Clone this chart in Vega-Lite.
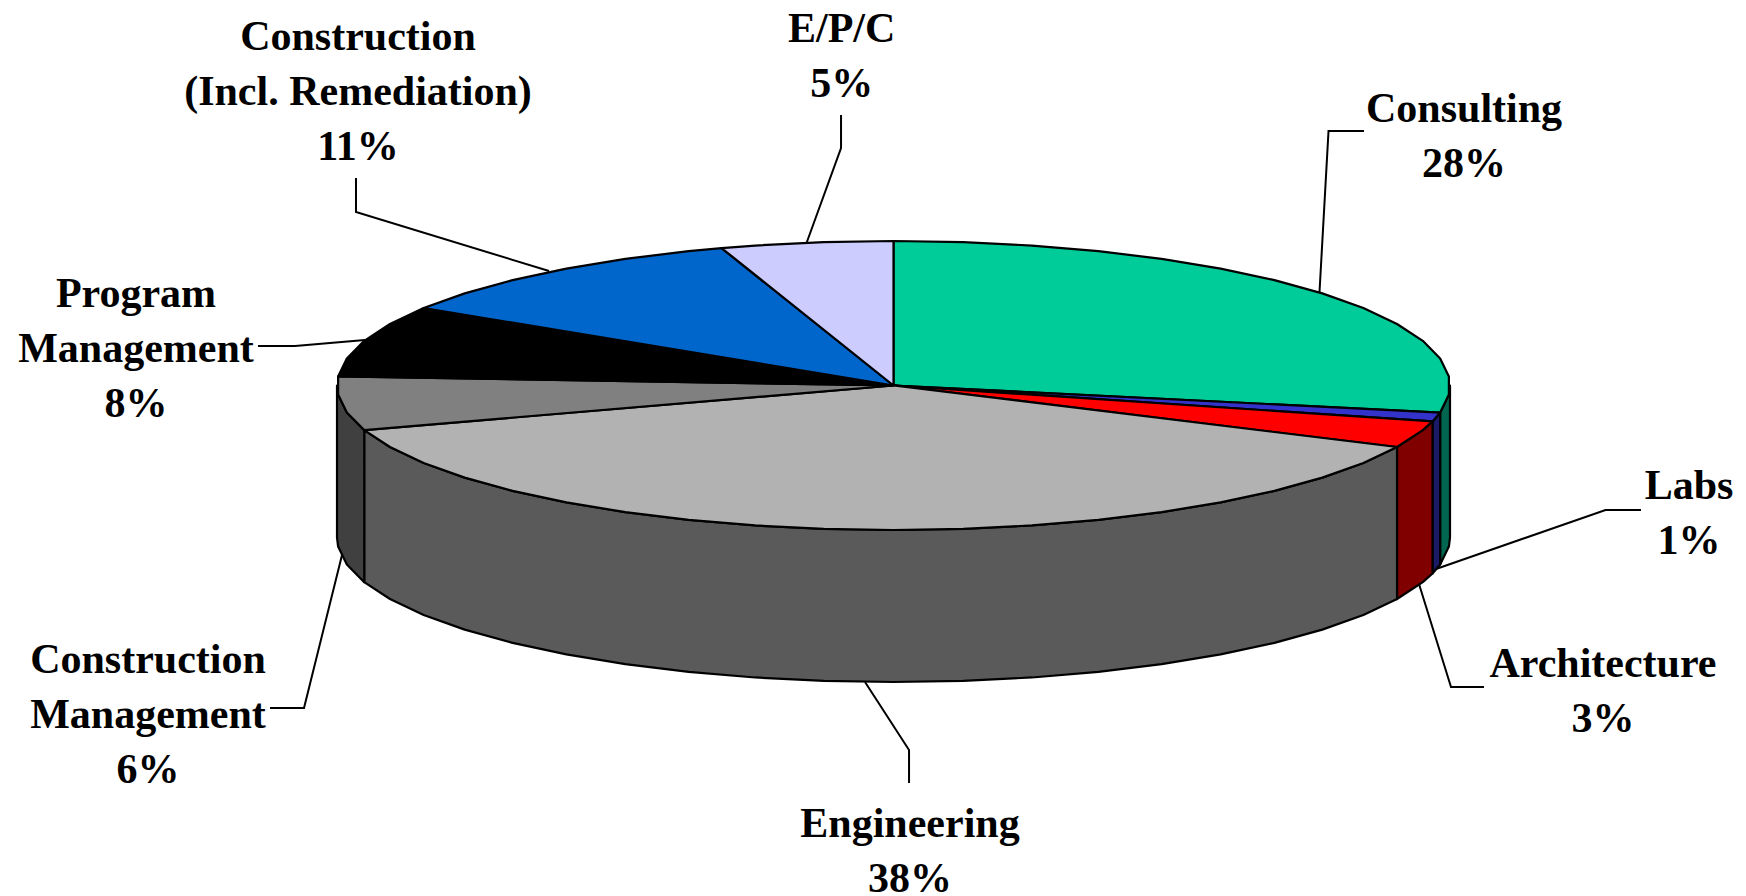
{
"$schema":"https://vega.github.io/schema/vega-lite/v6.json",
"width":1746,"height":896,
"autosize":{"type":"none"},
"padding":0,
"background":"white",
"config":{"view":{"stroke":null}},
"datasets":{
"shares":[
{"name":"Consulting","share":28,"lx":1.0252,"ly":1.8235},
{"name":"Labs","share":1,"lx":1.4295,"ly":-0.7855},
{"name":"Architecture","share":3,"lx":1.2749,"ly":-2.0173},
{"name":"Engineering","share":38,"lx":0.0296,"ly":-3.1225},
{"name":"Construction\nManagement","share":6,"lx":-1.3396,"ly":-1.9862},
{"name":"Program\nManagement","share":8,"lx":-1.3612,"ly":0.5398},
{"name":"Construction\n(Incl. Remediation)","share":11,"lx":-0.9623,"ly":2.3218},
{"name":"E/P/C","share":5,"lx":-0.0931,"ly":2.3806}
],
"wall":[
{"slice":"Consulting","x":1,"y":0,"base":-1.052},
{"slice":"Consulting","x":0.998,"y":-0.0628,"base":-1.1148},
{"slice":"Consulting","x":0.9823,"y":-0.1874,"base":-1.2394},
{"slice":"Labs","x":0.9823,"y":-0.1874,"base":-1.2394},
{"slice":"Labs","x":0.9686,"y":-0.2487,"base":-1.3007},
{"slice":"Architecture","x":0.9686,"y":-0.2487,"base":-1.3007},
{"slice":"Architecture","x":0.9511,"y":-0.309,"base":-1.361},
{"slice":"Architecture","x":0.9048,"y":-0.4258,"base":-1.4778},
{"slice":"Engineering","x":0.9048,"y":-0.4258,"base":-1.4778},
{"slice":"Engineering","x":0.8443,"y":-0.5358,"base":-1.5878},
{"slice":"Engineering","x":0.7705,"y":-0.6374,"base":-1.6894},
{"slice":"Engineering","x":0.6845,"y":-0.729,"base":-1.781},
{"slice":"Engineering","x":0.5878,"y":-0.809,"base":-1.861},
{"slice":"Engineering","x":0.4818,"y":-0.8763,"base":-1.9283},
{"slice":"Engineering","x":0.3681,"y":-0.9298,"base":-1.9818},
{"slice":"Engineering","x":0.2487,"y":-0.9686,"base":-2.0206},
{"slice":"Engineering","x":0.1253,"y":-0.9921,"base":-2.0441},
{"slice":"Engineering","x":0,"y":-1,"base":-2.052},
{"slice":"Engineering","x":-0.1253,"y":-0.9921,"base":-2.0441},
{"slice":"Engineering","x":-0.2487,"y":-0.9686,"base":-2.0206},
{"slice":"Engineering","x":-0.3681,"y":-0.9298,"base":-1.9818},
{"slice":"Engineering","x":-0.4818,"y":-0.8763,"base":-1.9283},
{"slice":"Engineering","x":-0.5878,"y":-0.809,"base":-1.861},
{"slice":"Engineering","x":-0.6845,"y":-0.729,"base":-1.781},
{"slice":"Engineering","x":-0.7705,"y":-0.6374,"base":-1.6894},
{"slice":"Engineering","x":-0.8443,"y":-0.5358,"base":-1.5878},
{"slice":"Engineering","x":-0.9048,"y":-0.4258,"base":-1.4778},
{"slice":"Engineering","x":-0.9511,"y":-0.309,"base":-1.361},
{"slice":"Construction Management","x":-0.9511,"y":-0.309,"base":-1.361},
{"slice":"Construction Management","x":-0.9823,"y":-0.1874,"base":-1.2394},
{"slice":"Construction Management","x":-0.998,"y":-0.0628,"base":-1.1148},
{"slice":"Construction Management","x":-1,"y":0,"base":-1.052}
],
"top":[
{"slice":"Consulting","i":0,"x":0,"y":0},
{"slice":"Consulting","i":1,"x":0,"y":1},
{"slice":"Consulting","i":2,"x":0.1253,"y":0.9921},
{"slice":"Consulting","i":3,"x":0.2487,"y":0.9686},
{"slice":"Consulting","i":4,"x":0.3681,"y":0.9298},
{"slice":"Consulting","i":5,"x":0.4818,"y":0.8763},
{"slice":"Consulting","i":6,"x":0.5878,"y":0.809},
{"slice":"Consulting","i":7,"x":0.6845,"y":0.729},
{"slice":"Consulting","i":8,"x":0.7705,"y":0.6374},
{"slice":"Consulting","i":9,"x":0.8443,"y":0.5358},
{"slice":"Consulting","i":10,"x":0.9048,"y":0.4258},
{"slice":"Consulting","i":11,"x":0.9511,"y":0.309},
{"slice":"Consulting","i":12,"x":0.9823,"y":0.1874},
{"slice":"Consulting","i":13,"x":0.998,"y":0.0628},
{"slice":"Consulting","i":14,"x":0.998,"y":-0.0628},
{"slice":"Consulting","i":15,"x":0.9823,"y":-0.1874},
{"slice":"Consulting","i":16,"x":0,"y":0},
{"slice":"Labs","i":0,"x":0,"y":0},
{"slice":"Labs","i":1,"x":0.9823,"y":-0.1874},
{"slice":"Labs","i":2,"x":0.9686,"y":-0.2487},
{"slice":"Labs","i":3,"x":0,"y":0},
{"slice":"Architecture","i":0,"x":0,"y":0},
{"slice":"Architecture","i":1,"x":0.9686,"y":-0.2487},
{"slice":"Architecture","i":2,"x":0.9511,"y":-0.309},
{"slice":"Architecture","i":3,"x":0.9048,"y":-0.4258},
{"slice":"Architecture","i":4,"x":0,"y":0},
{"slice":"Engineering","i":0,"x":0,"y":0},
{"slice":"Engineering","i":1,"x":0.9048,"y":-0.4258},
{"slice":"Engineering","i":2,"x":0.8443,"y":-0.5358},
{"slice":"Engineering","i":3,"x":0.7705,"y":-0.6374},
{"slice":"Engineering","i":4,"x":0.6845,"y":-0.729},
{"slice":"Engineering","i":5,"x":0.5878,"y":-0.809},
{"slice":"Engineering","i":6,"x":0.4818,"y":-0.8763},
{"slice":"Engineering","i":7,"x":0.3681,"y":-0.9298},
{"slice":"Engineering","i":8,"x":0.2487,"y":-0.9686},
{"slice":"Engineering","i":9,"x":0.1253,"y":-0.9921},
{"slice":"Engineering","i":10,"x":0,"y":-1},
{"slice":"Engineering","i":11,"x":-0.1253,"y":-0.9921},
{"slice":"Engineering","i":12,"x":-0.2487,"y":-0.9686},
{"slice":"Engineering","i":13,"x":-0.3681,"y":-0.9298},
{"slice":"Engineering","i":14,"x":-0.4818,"y":-0.8763},
{"slice":"Engineering","i":15,"x":-0.5878,"y":-0.809},
{"slice":"Engineering","i":16,"x":-0.6845,"y":-0.729},
{"slice":"Engineering","i":17,"x":-0.7705,"y":-0.6374},
{"slice":"Engineering","i":18,"x":-0.8443,"y":-0.5358},
{"slice":"Engineering","i":19,"x":-0.9048,"y":-0.4258},
{"slice":"Engineering","i":20,"x":-0.9511,"y":-0.309},
{"slice":"Engineering","i":21,"x":0,"y":0},
{"slice":"Construction Management","i":0,"x":0,"y":0},
{"slice":"Construction Management","i":1,"x":-0.9511,"y":-0.309},
{"slice":"Construction Management","i":2,"x":-0.9823,"y":-0.1874},
{"slice":"Construction Management","i":3,"x":-0.998,"y":-0.0628},
{"slice":"Construction Management","i":4,"x":-0.998,"y":0.0628},
{"slice":"Construction Management","i":5,"x":0,"y":0},
{"slice":"Program Management","i":0,"x":0,"y":0},
{"slice":"Program Management","i":1,"x":-0.998,"y":0.0628},
{"slice":"Program Management","i":2,"x":-0.9823,"y":0.1874},
{"slice":"Program Management","i":3,"x":-0.9511,"y":0.309},
{"slice":"Program Management","i":4,"x":-0.9048,"y":0.4258},
{"slice":"Program Management","i":5,"x":-0.8443,"y":0.5358},
{"slice":"Program Management","i":6,"x":0,"y":0},
{"slice":"Construction","i":0,"x":0,"y":0},
{"slice":"Construction","i":1,"x":-0.8443,"y":0.5358},
{"slice":"Construction","i":2,"x":-0.7705,"y":0.6374},
{"slice":"Construction","i":3,"x":-0.6845,"y":0.729},
{"slice":"Construction","i":4,"x":-0.5878,"y":0.809},
{"slice":"Construction","i":5,"x":-0.4818,"y":0.8763},
{"slice":"Construction","i":6,"x":-0.3681,"y":0.9298},
{"slice":"Construction","i":7,"x":-0.309,"y":0.9511},
{"slice":"Construction","i":8,"x":0,"y":0},
{"slice":"E/P/C","i":0,"x":0,"y":0},
{"slice":"E/P/C","i":1,"x":-0.309,"y":0.9511},
{"slice":"E/P/C","i":2,"x":-0.2487,"y":0.9686},
{"slice":"E/P/C","i":3,"x":-0.1253,"y":0.9921},
{"slice":"E/P/C","i":4,"x":0,"y":1},
{"slice":"E/P/C","i":5,"x":0,"y":0}
],
"leaders":[
{"to":"E/P/C","i":0,"x":-0.0943,"y":1.872},
{"to":"E/P/C","i":1,"x":-0.0943,"y":1.6436},
{"to":"E/P/C","i":2,"x":-0.1563,"y":0.9862},
{"to":"Construction","i":0,"x":-0.9659,"y":1.436},
{"to":"Construction","i":1,"x":-0.9659,"y":1.2007},
{"to":"Construction","i":2,"x":-0.619,"y":0.7924},
{"to":"Consulting","i":0,"x":0.8455,"y":1.7612},
{"to":"Consulting","i":1,"x":0.7817,"y":1.7612},
{"to":"Consulting","i":2,"x":0.7655,"y":0.6471},
{"to":"Program Management","i":0,"x":-1.142,"y":0.2734},
{"to":"Program Management","i":1,"x":-1.0755,"y":0.2734},
{"to":"Program Management","i":2,"x":-0.9497,"y":0.3149},
{"to":"Labs","i":0,"x":1.3432,"y":-0.8616},
{"to":"Labs","i":1,"x":1.2794,"y":-0.8616},
{"to":"Labs","i":2,"x":0.9748,"y":-1.2699},
{"to":"Architecture","i":0,"x":1.0611,"y":-2.0865},
{"to":"Architecture","i":1,"x":1.0018,"y":-2.0865},
{"to":"Architecture","i":2,"x":0.9443,"y":-1.3737},
{"to":"Engineering","i":0,"x":-0.0512,"y":-2.0519},
{"to":"Engineering","i":1,"x":0.0279,"y":-2.5225},
{"to":"Engineering","i":2,"x":0.0279,"y":-2.7509},
{"to":"Construction Management","i":0,"x":-1.1204,"y":-2.2318},
{"to":"Construction Management","i":1,"x":-1.0593,"y":-2.2318},
{"to":"Construction Management","i":2,"x":-0.991,"y":-1.173}
]
},
"layer":[
{
"data":{"name":"leaders"},
"mark":{"type":"line","stroke":"#000000","strokeWidth":2,"strokeCap":"butt","strokeJoin":"miter"},
"encoding":{
"x":{"field":"x","type":"quantitative","axis":null,"scale":{"domain":[-1.6056,1.5319],"nice":false,"zero":false}},
"y":{"field":"y","type":"quantitative","axis":null,"scale":{"domain":[-3.5329,2.6678],"nice":false,"zero":false}},
"detail":{"field":"to"},
"order":{"field":"i","type":"ordinal"}
}
},
{
"data":{"name":"wall"},
"mark":{"type":"area","stroke":"#000000","strokeWidth":2.2,"strokeJoin":"round"},
"encoding":{
"x":{"field":"x","type":"quantitative"},
"y":{"field":"y","type":"quantitative"},
"y2":{"field":"base"},
"fill":{"field":"slice","type":"nominal","legend":null,"scale":{
"domain":["Consulting","Labs","Architecture","Engineering","Construction Management"],
"range":["#006650","#1A1A66","#800000","#5A5A5A","#404040"]}}
}
},
{
"data":{"name":"top"},
"mark":{"type":"line","strokeWidth":2.2,"stroke":"#000000","strokeJoin":"round","fill":"#000000"},
"encoding":{
"x":{"field":"x","type":"quantitative"},
"y":{"field":"y","type":"quantitative"},
"order":{"field":"i","type":"ordinal"},
"fill":{"field":"slice","type":"nominal","legend":null,"scale":{
"domain":["Consulting","Labs","Architecture","Engineering","Construction Management","Program Management","Construction","E/P/C"],
"range":["#00CC99","#3333CC","#FF0000","#B2B2B2","#808080","#000000","#0066CC","#CCCCFF"]}}
}
},
{
"data":{"name":"shares"},
"transform":[{"calculate":"datum.name + '\\n' + datum.share + '%'","as":"label"}],
"mark":{"type":"text","font":"Liberation Serif","fontWeight":"bold","fontSize":42,"lineBreak":"\n","lineHeight":55,"align":"center","baseline":"alphabetic","color":"#000000"},
"encoding":{
"x":{"field":"lx","type":"quantitative"},
"y":{"field":"ly","type":"quantitative"},
"text":{"field":"label","type":"nominal"}
}
}
],
"resolve":{"scale":{"fill":"independent"}}
}
